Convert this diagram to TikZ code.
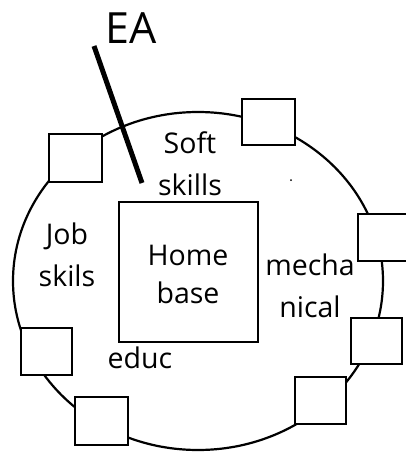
\documentclass[tikz,border=0pt]{standalone}
\usepackage{fontspec}
\setmainfont{Open Sans}
\begin{document}
\begin{tikzpicture}[x=1pt,y=-1pt,
  sq/.style={draw=black,line width=2.8pt,fill=white},
  lbl/.style={inner sep=0pt,align=center,text=black,font=\fontsize{28.5}{42}\selectfont},
  ring/.style={draw=black,line width=2.2pt}]
\useasboundingbox (0,0) rectangle (406,453);
\draw[ring] (198,281) ellipse [x radius=185, y radius=169];
% outer boxes
\draw[sq] (49,134) rectangle (102,182);
\draw[sq] (242,99) rectangle (295,145);
\draw[sq] (358,214) rectangle (408,261);
\draw[sq] (351,318) rectangle (402,364);
\draw[sq] (295,377) rectangle (346,424);
\draw[sq] (75,397) rectangle (128,445);
\draw[sq] (21,328) rectangle (72,375);
% home base
\node[draw=black,line width=2.8pt,minimum width=139pt,minimum height=140pt,inner sep=0pt] (home) at (188.5,272) {};
\node[lbl] (hometxt) at (188,274) {Home\\[-4pt]base};
% labels
\node[lbl] (soft) at (190,164) {Soft\\skills};
\node[lbl] (job) at (67,255) {Job\\skils};
\node[lbl] (mech) at (310,286) {mecha\\nical};
\node[lbl,anchor=base] (educ) at (140,368) {educ};
\node[inner sep=0pt,font=\fontsize{43}{50}\selectfont,anchor=base] (ea) at (131,43) {EA};
\coordinate (eatop) at (94,46);
\coordinate (eabot) at (142,183);
\draw[line width=5pt] (eatop) -- (eabot);
\fill (291,180) circle (1pt);
\end{tikzpicture}
\end{document}
